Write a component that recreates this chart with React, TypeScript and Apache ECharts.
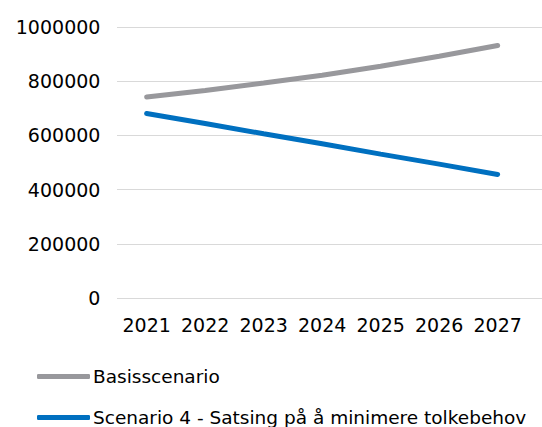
import React, { useEffect, useRef } from "react";
import * as echarts from "echarts";

const years = ["2021", "2022", "2023", "2024", "2025", "2026", "2027"];
const basis = [742000, 766000, 793000, 822000, 855000, 892000, 932000];
const scenario4 = [681000, 644000, 606000, 569000, 531000, 494000, 456000];
const seriesNames = ["Basisscenario", "Scenario 4 - Satsing på å minimere tolkebehov"];
const colors = ["#98989c", "#0070c0"];

const FONT = "DejaVu Sans";

export default function App() {
  const ref = useRef<HTMLDivElement>(null);
  useEffect(() => {
    if (!ref.current) return;
    const chart = echarts.init(ref.current, undefined, { renderer: "svg" });
    const top = 27;
    const height = 271;
    const legendBase = {
      orient: "vertical",
      left: 32,
      itemWidth: 53,
      itemHeight: 5,
      icon: "roundRect",
      textStyle: { color: "#000", fontSize: 18.5, fontFamily: FONT, padding: [0, 0, 0, -2] },
    };
    chart.setOption({
      animation: false,
      textStyle: { fontFamily: FONT },
      grid: [
        { left: 117, right: 0, top, height },
        { left: 117.4, width: 409.5, top, height },
      ],
      xAxis: [
        { type: "category", gridIndex: 0, data: years, show: false },
        {
          type: "category",
          gridIndex: 1,
          data: years,
          axisLine: { show: false },
          axisTick: { show: false },
          axisLabel: { color: "#000", fontSize: 19, fontFamily: FONT, margin: 17, interval: 0, hideOverlap: false },
        },
      ],
      yAxis: [
        {
          type: "value",
          gridIndex: 0,
          min: 0,
          max: 1000000,
          interval: 200000,
          axisLabel: { show: false },
          axisLine: { show: false },
          axisTick: { show: false },
          splitLine: { lineStyle: { color: "#d9d9d9", width: 1 } },
        },
        {
          type: "value",
          gridIndex: 1,
          min: 0,
          max: 1000000,
          interval: 200000,
          axisLine: { show: false },
          axisTick: { show: false },
          splitLine: { show: false },
          axisLabel: {
            color: "#000",
            fontSize: 19,
            fontFamily: FONT,
            margin: 17,
            formatter: (v: number) => String(v),
          },
        },
      ],
      legend: [
        { ...legendBase, top: 362, data: [seriesNames[0]] },
        { ...legendBase, top: 403, data: [seriesNames[1]] },
      ],
      series: [
        {
          name: seriesNames[0],
          type: "line",
          xAxisIndex: 1,
          yAxisIndex: 1,
          data: basis,
          symbol: "none",
          color: colors[0],
          lineStyle: { width: 5, cap: "round", color: colors[0] },
        },
        {
          name: seriesNames[1],
          type: "line",
          xAxisIndex: 1,
          yAxisIndex: 1,
          data: scenario4,
          symbol: "none",
          color: colors[1],
          lineStyle: { width: 5, cap: "round", color: colors[1] },
        },
      ],
    });
    return () => chart.dispose();
  }, []);
  return <div ref={ref} style={{ width: 542, height: 427, position: "absolute", left: 0, top: 0 }} />;
}
